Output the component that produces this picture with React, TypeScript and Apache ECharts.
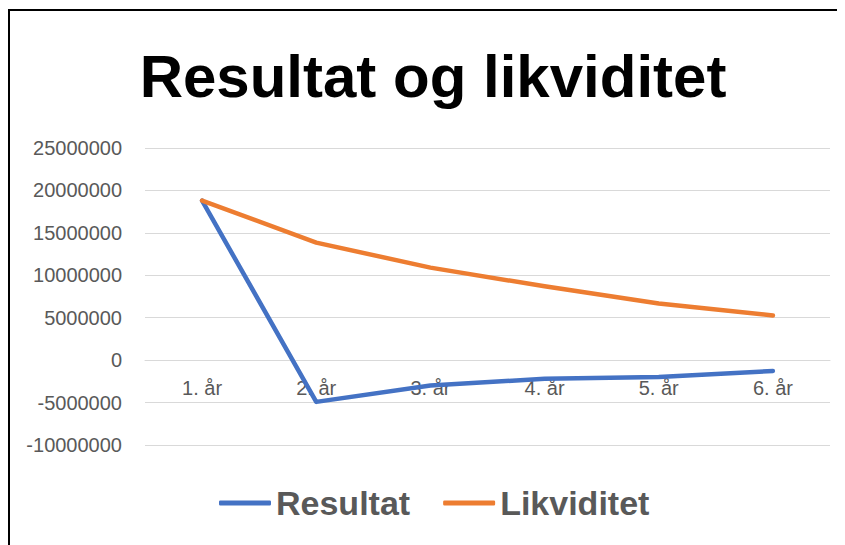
import React, { useEffect, useRef } from "react";
import * as echarts from "echarts";

const categories = ["1. år", "2. år", "3. år", "4. år", "5. år", "6. år"];
const resultat = [18800000, -4920000, -3000000, -2200000, -2000000, -1280000];
const likviditet = [18800000, 13850000, 10900000, 8700000, 6680000, 5270000];
const titleText = "Resultat og likviditet";
const FONT = "'Liberation Sans', Arial, sans-serif";

export default function App() {
  const ref = useRef<HTMLDivElement>(null);
  useEffect(() => {
    if (!ref.current) return;
    const chart = echarts.init(ref.current, undefined, { renderer: "svg" });
    chart.setOption({
      animation: false,
      backgroundColor: "#ffffff",
      textStyle: { fontFamily: FONT },
      graphic: [
        {
          type: "rect",
          shape: { x: 1, y: 2, width: 831, height: 600 },
          style: { fill: "none", stroke: "#000000", lineWidth: 2 },
          silent: true,
        },
        {
          type: "text",
          x: 425,
          y: 68,
          style: {
            text: titleText,
            fontFamily: FONT,
            fontWeight: "bold",
            fontSize: 60,
            fill: "#000000",
            align: "center",
            verticalAlign: "middle",
          },
        },
      ],
      legend: {
        left: 206,
        top: 473,
        itemWidth: 52,
        itemHeight: 5,
        itemGap: 33,
        icon: "roundRect",
        textStyle: { fontFamily: FONT, fontSize: 34, fontWeight: "bold", color: "#595959" },
        data: ["Resultat", "Likviditet"],
      },
      grid: { left: 137, right: 15, top: 140, bottom: 100, containLabel: false },
      xAxis: {
        type: "category",
        data: categories,
        boundaryGap: true,
        offset: -85,
        axisLine: { show: true, onZero: false, lineStyle: { color: "#d9d9d9", width: 1 } },
        axisTick: { show: false },
        axisLabel: { color: "#595959", fontSize: 20, fontFamily: FONT, margin: 18 },
      },
      yAxis: {
        type: "value",
        min: -10000000,
        max: 25000000,
        interval: 5000000,
        axisLine: { show: false },
        axisTick: { show: false },
        splitLine: { lineStyle: { color: "#d9d9d9", width: 1 } },
        axisLabel: {
          color: "#595959",
          fontSize: 20,
          fontFamily: FONT,
          margin: 23,
          formatter: (v: number) => String(v),
        },
      },
      series: [
        {
          name: "Resultat",
          type: "line",
          data: resultat,
          symbol: "none",
          lineStyle: { color: "#4472C4", width: 4.5, cap: "round", join: "round" },
          itemStyle: { color: "#4472C4" },
        },
        {
          name: "Likviditet",
          type: "line",
          data: likviditet,
          symbol: "none",
          lineStyle: { color: "#ED7D31", width: 4.5, cap: "round", join: "round" },
          itemStyle: { color: "#ED7D31" },
        },
      ],
    });
    return () => chart.dispose();
  }, []);
  return <div ref={ref} style={{ width: 837, height: 537 }} />;
}
